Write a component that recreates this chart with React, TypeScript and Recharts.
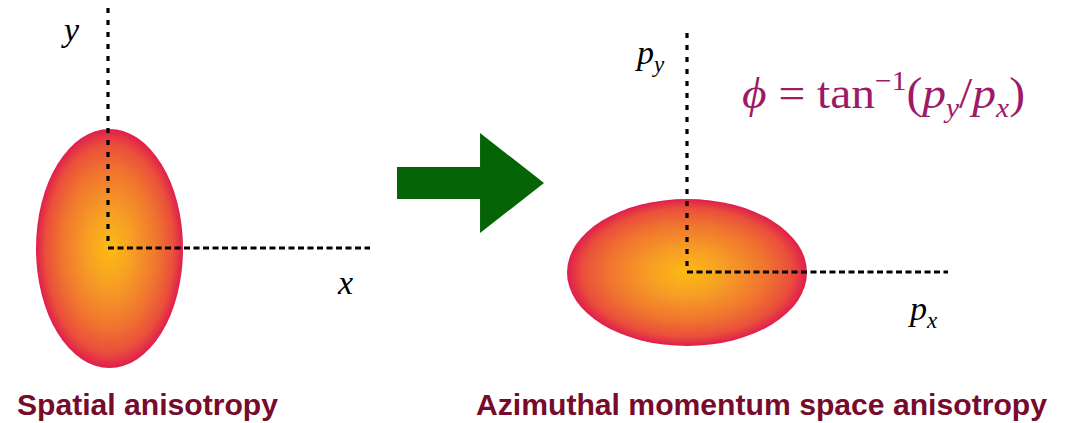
import React from 'react';
import {
  ComposedChart,
  XAxis,
  YAxis,
  ReferenceArea,
  ReferenceLine,
  Scatter,
} from 'recharts';

const CHART_W = 1071;
const CHART_H = 423;

// Ellipses (spatial / momentum), in pixel-like coordinate units
const ellipseNames = ['spatial', 'momentum'];
const ellipseX1 = [36, 567];
const ellipseX2 = [183, 807];
const ellipseY1 = [129, 199];
const ellipseY2 = [368, 346];

// Dashed coordinate axes
const originX = [108, 687];
const originY = [248, 272];
const axisTopY = [8, 33];
const axisRightX = [370, 948];

// Arrow box
const arrowX = [397, 544];
const arrowY = [133, 233];

// Text labels
const labelKinds = ['y', 'x', 'py', 'px', 'formula', 'title1', 'title2'];
const labelX = [64, 338, 637, 910, 742, 17, 476];
const labelY = [41, 294, 64, 320, 108, 415, 415];
const labelText = ['y', 'x', 'p', 'p', 'φ', 'Spatial anisotropy', 'Azimuthal momentum space anisotropy'];

const labelData = labelKinds.map((k, i) => ({ kind: k, x: labelX[i], y: labelY[i], text: labelText[i] }));

const SERIF = '"Liberation Serif", "DejaVu Serif", serif';
const SANS = '"Liberation Sans", Arial, sans-serif';
const MAROON = '#760b2c';
const PURPLE = '#9c1a66';

const renderLabel = (props: any) => {
  const { cx, cy, payload } = props;
  if (cx == null || cy == null) return <g />;
  const k = payload.kind;
  if (k === 'y' || k === 'x') {
    return (
      <text x={cx} y={cy} fontFamily={SERIF} fontStyle="italic" fontSize={34} fill="#000">
        {payload.text}
      </text>
    );
  }
  if (k === 'py' || k === 'px') {
    return (
      <text x={cx} y={cy} fontFamily={SERIF} fontStyle="italic" fontSize={34} fill="#000">
        {payload.text}
        <tspan fontSize={23} dy={8}>{k === 'py' ? 'y' : 'x'}</tspan>
      </text>
    );
  }
  if (k === 'formula') {
    return (
      <text x={cx} y={cy} fontFamily={SERIF} fontSize={45} fill={PURPLE} textLength={283} lengthAdjust="spacingAndGlyphs">
        <tspan fontStyle="italic">ϕ</tspan>
        <tspan> = tan</tspan>
        <tspan fontSize={28} dy={-18}>−1</tspan>
        <tspan dy={18}>(</tspan>
        <tspan fontStyle="italic">p</tspan>
        <tspan fontStyle="italic" fontSize={28} dy={9}>y</tspan>
        <tspan dy={-9}>/</tspan>
        <tspan fontStyle="italic">p</tspan>
        <tspan fontStyle="italic" fontSize={28} dy={9}>x</tspan>
        <tspan dy={-9}>)</tspan>
      </text>
    );
  }
  const width = k === 'title1' ? 261 : 571;
  return (
    <text
      x={cx}
      y={cy}
      fontFamily={SANS}
      fontWeight="bold"
      fontSize={30}
      fill={MAROON}
      textLength={width}
      lengthAdjust="spacingAndGlyphs"
    >
      {payload.text}
    </text>
  );
};

const ellipseShape = (props: any) => {
  const { x, y, width, height } = props;
  return (
    <ellipse
      cx={x + width / 2}
      cy={y + height / 2}
      rx={Math.abs(width) / 2}
      ry={Math.abs(height) / 2}
      fill="url(#blobGrad)"
    />
  );
};

const arrowShape = (props: any) => {
  const { x, y, width, height } = props;
  const shaftEnd = x + width * 0.565;
  const midY = y + height / 2;
  const shaftHalf = height * 0.16;
  const pts = [
    [x, midY - shaftHalf],
    [shaftEnd, midY - shaftHalf],
    [shaftEnd, y],
    [x + width, midY],
    [shaftEnd, y + height],
    [shaftEnd, midY + shaftHalf],
    [x, midY + shaftHalf],
  ]
    .map((p) => p.join(','))
    .join(' ');
  return <polygon points={pts} fill="#056405" />;
};

export default function App() {
  return (
    <div style={{ position: 'absolute', left: 0, top: 0, background: '#fff' }}>
      <ComposedChart width={CHART_W} height={CHART_H} margin={{ top: 0, right: 0, bottom: 0, left: 0 }}>
        <defs>
          <radialGradient id="blobGrad" cx="50%" cy="50%" r="50%">
            <stop offset="0%" stopColor="#fdbb12" />
            <stop offset="30%" stopColor="#f7a024" />
            <stop offset="65%" stopColor="#f0752f" />
            <stop offset="87%" stopColor="#ea4f3b" />
            <stop offset="100%" stopColor="#df1f4c" />
          </radialGradient>
        </defs>
        <XAxis type="number" dataKey="x" domain={[0, CHART_W]} hide allowDataOverflow />
        <YAxis type="number" dataKey="y" domain={[0, CHART_H]} reversed hide allowDataOverflow />
        {ellipseNames.map((n, i) => (
          <ReferenceArea
            key={n}
            x1={ellipseX1[i]}
            x2={ellipseX2[i]}
            y1={ellipseY1[i]}
            y2={ellipseY2[i]}
            shape={ellipseShape}
            ifOverflow="visible"
          />
        ))}
        <ReferenceArea
          x1={arrowX[0]}
          x2={arrowX[1]}
          y1={arrowY[0]}
          y2={arrowY[1]}
          shape={arrowShape}
          ifOverflow="visible"
        />
        {ellipseNames.map((n, i) => (
          <ReferenceLine
            key={'v' + n}
            segment={[
              { x: originX[i], y: axisTopY[i] },
              { x: originX[i], y: originY[i] },
            ]}
            stroke="#000"
            strokeWidth={3.2}
            strokeDasharray="5 7"
            ifOverflow="visible"
          />
        ))}
        {ellipseNames.map((n, i) => (
          <ReferenceLine
            key={'h' + n}
            segment={[
              { x: originX[i], y: originY[i] },
              { x: axisRightX[i], y: originY[i] },
            ]}
            stroke="#000"
            strokeWidth={3.2}
            strokeDasharray="6 3.5"
            ifOverflow="visible"
          />
        ))}
        <Scatter data={labelData} dataKey="y" shape={renderLabel} isAnimationActive={false} />
      </ComposedChart>
    </div>
  );
}
